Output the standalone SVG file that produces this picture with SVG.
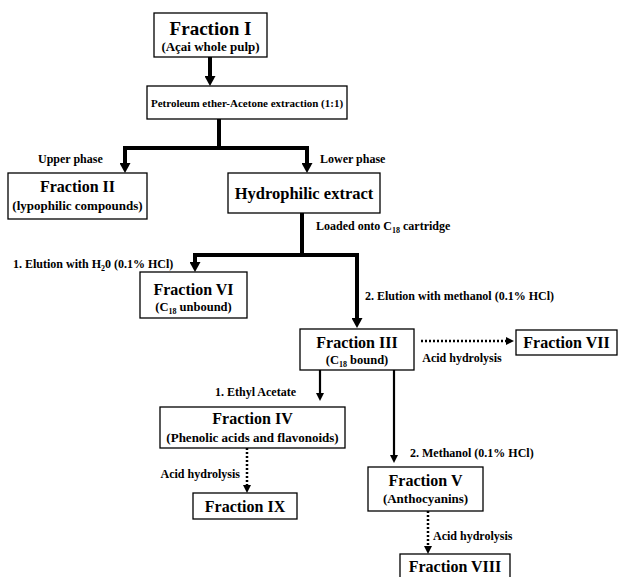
<svg xmlns="http://www.w3.org/2000/svg" width="621" height="577" viewBox="0 0 621 577">
<style>
text{font-family:"Liberation Serif","Times New Roman",serif;font-weight:bold;fill:#000}
.box{fill:#fff;stroke:#000;stroke-width:1.3}
.t{font-size:16px;text-anchor:middle}
.s{font-size:13px;text-anchor:middle}
.l{font-size:12px}
.thick{fill:none;stroke:#000;stroke-width:4;stroke-linejoin:miter}
.med{fill:none;stroke:#000;stroke-width:2.2}
.dot{fill:none;stroke:#000;stroke-width:2.5;stroke-dasharray:2 2}
</style>
<defs>
<marker id="ah" viewBox="0 0 10 10" refX="0" refY="5" markerWidth="10" markerHeight="11" markerUnits="userSpaceOnUse" orient="auto" preserveAspectRatio="none">
<path d="M0,0 L10,5 L0,10 z" fill="#000"/>
</marker>
<marker id="as" viewBox="0 0 10 10" refX="0" refY="5" markerWidth="8" markerHeight="8" markerUnits="userSpaceOnUse" orient="auto" preserveAspectRatio="none">
<path d="M0,0 L10,5 L0,10 z" fill="#000"/>
</marker>
</defs>
<rect width="621" height="577" fill="#fff"/>
<g id="connectors">
<path class="thick" d="M210,57 V76" marker-end="url(#ah)"/>
<path class="thick" d="M219,119 V148 H125 V163" marker-end="url(#ah)"/>
<path class="thick" d="M219,148 H307 V163" marker-end="url(#ah)"/>
<path class="thick" d="M302,213 V255 H195 V262" marker-end="url(#ah)"/>
<path class="thick" d="M302,255 H357 V318" marker-end="url(#ah)"/>
<path class="med" d="M320,370 V393" marker-end="url(#as)"/>
<path class="med" d="M394,370 V455" marker-end="url(#as)"/>
<path class="dot" d="M421,341 H506" marker-end="url(#as)"/>
<path class="dot" d="M247,448 V485" marker-end="url(#as)"/>
<path class="dot" d="M428,511 V546" marker-end="url(#as)"/>
<text class="l" x="38" y="163">Upper phase</text>
<text class="l" x="320" y="163">Lower phase</text>
<text class="l" x="316" y="230">Loaded onto C<tspan dy="3" font-size="8">18</tspan><tspan dy="-3"> cartridge</tspan></text>
<text class="l" x="13" y="268">1. Elution with H<tspan dy="3" font-size="8">2</tspan><tspan dy="-3">0 (0.1% HCl)</tspan></text>
<text class="l" x="365" y="300">2. Elution with methanol (0.1% HCl)</text>
<text class="l" x="462" y="362" text-anchor="middle">Acid hydrolysis</text>
<text class="l" x="215" y="396">1. Ethyl Acetate</text>
<text class="l" x="410" y="457">2. Methanol (0.1% HCl)</text>
<text class="l" x="240" y="478" text-anchor="end">Acid hydrolysis</text>
<text class="l" x="433" y="540">Acid hydrolysis</text>
</g>
<g id="fraction-I">
<rect class="box" x="154" y="13" width="113" height="44"/>
<text class="t" x="210.5" y="35" style="font-size:19px">Fraction I</text>
<text class="s" x="210.5" y="51">(Açai whole pulp)</text>
</g>
<g id="extraction">
<rect class="box" x="147" y="86" width="200" height="33"/>
<text x="247" y="107" text-anchor="middle" font-size="11">Petroleum ether-Acetone extraction (1:1)</text>
</g>
<g id="fraction-II">
<rect class="box" x="8" y="173" width="139" height="46"/>
<text class="t" x="77.5" y="192">Fraction II</text>
<text class="s" x="77.5" y="210">(lypophilic compounds)</text>
</g>
<g id="hydrophilic">
<rect class="box" x="228" y="173" width="152" height="40"/>
<text class="t" x="304" y="199" style="font-size:16.5px">Hydrophilic extract</text>
</g>
<g id="fraction-VI">
<rect class="box" x="140" y="272" width="107" height="46"/>
<text class="t" x="193.5" y="295">Fraction VI</text>
<text class="s" x="193.5" y="311" style="font-size:12.5px">(C<tspan dy="3" font-size="8">18</tspan><tspan dy="-3"> unbound)</tspan></text>
</g>
<g id="fraction-III">
<rect class="box" x="300" y="329" width="114" height="41"/>
<text class="t" x="357" y="348">Fraction III</text>
<text class="s" x="357" y="364" style="font-size:12.5px">(C<tspan dy="3" font-size="8">18</tspan><tspan dy="-3"> bound)</tspan></text>
</g>
<g id="fraction-VII">
<rect class="box" x="516" y="330" width="101" height="25"/>
<text class="t" x="566.5" y="348">Fraction VII</text>
</g>
<g id="fraction-IV">
<rect class="box" x="160" y="407" width="185" height="41"/>
<text class="t" x="252.5" y="424">Fraction IV</text>
<text class="s" x="252.5" y="442">(Phenolic acids and flavonoids)</text>
</g>
<g id="fraction-IX">
<rect class="box" x="193" y="493" width="104" height="26"/>
<text class="t" x="245" y="512">Fraction IX</text>
</g>
<g id="fraction-V">
<rect class="box" x="368" y="467" width="115" height="44"/>
<text class="t" x="425.5" y="486">Fraction V</text>
<text class="s" x="425.5" y="503">(Anthocyanins)</text>
</g>
<g id="fraction-VIII">
<rect class="box" x="400" y="554" width="110" height="30"/>
<text class="t" x="455" y="572">Fraction VIII</text>
</g>
</svg>
